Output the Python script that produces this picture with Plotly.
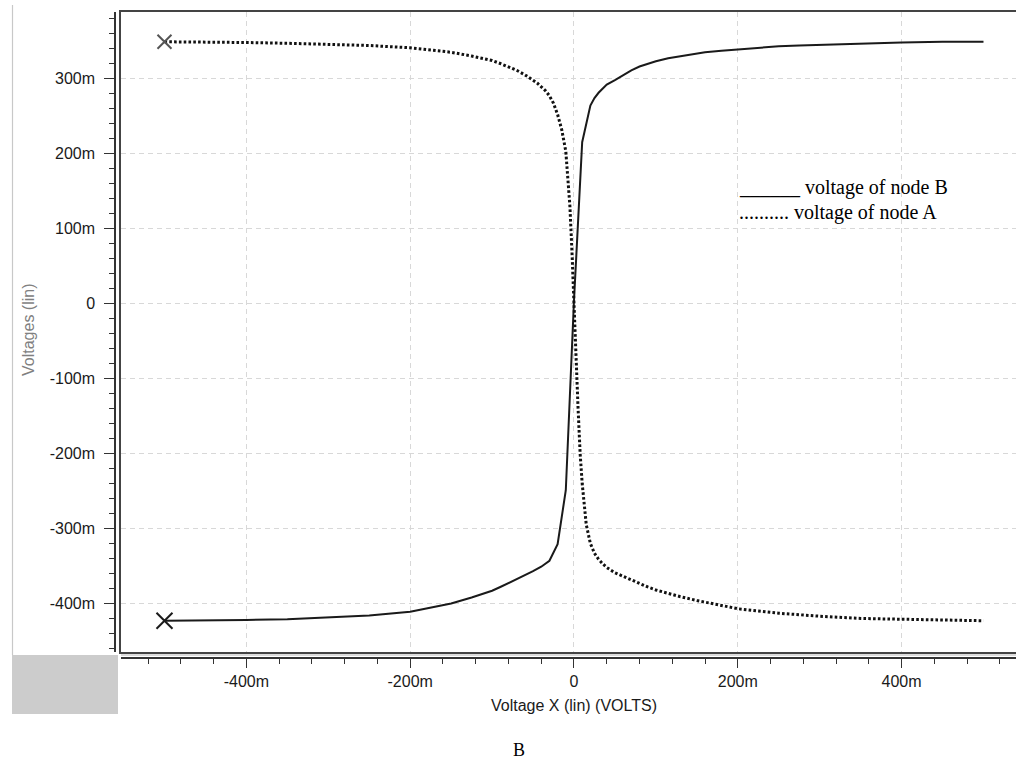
import numpy as np
import plotly.graph_objects as go

W, H = 1016, 762

# ---- data (volts) ----
node_b_x = [-0.5, -0.45, -0.4, -0.35, -0.3, -0.25, -0.2, -0.175, -0.15, -0.125, -0.1, -0.09,
            -0.08, -0.07, -0.06, -0.05, -0.04, -0.03, -0.02, -0.01, 0.0, 0.01, 0.02, 0.025,
            0.03, 0.035, 0.04, 0.05, 0.06, 0.07, 0.08, 0.09, 0.1, 0.115, 0.13, 0.145, 0.16,
            0.18, 0.2, 0.225, 0.25, 0.275, 0.3, 0.35, 0.4, 0.45, 0.5]
node_b_y = [-0.423, -0.423, -0.422, -0.421, -0.419, -0.416, -0.411, -0.406, -0.400, -0.392,
            -0.383, -0.378, -0.373, -0.368, -0.363, -0.357, -0.351, -0.343, -0.321, -0.249,
            0.004, 0.215, 0.264, 0.274, 0.281, 0.287, 0.292, 0.298, 0.305, 0.311, 0.316,
            0.320, 0.323, 0.327, 0.330, 0.333, 0.335, 0.337, 0.339, 0.341, 0.343, 0.344,
            0.345, 0.347, 0.348, 0.349, 0.349]

node_a_x = [-0.5, -0.45, -0.4, -0.35, -0.3, -0.25, -0.2, -0.175, -0.15, -0.125, -0.1, -0.09,
            -0.08, -0.07, -0.06, -0.05, -0.045, -0.04, -0.035, -0.03, -0.025, -0.02, -0.015,
            -0.01, -0.0075, -0.005, -0.0025, 0.0, 0.0025, 0.005, 0.0075, 0.01, 0.015, 0.02,
            0.025, 0.03, 0.035, 0.04, 0.05, 0.06, 0.07, 0.08, 0.09, 0.1, 0.115, 0.13, 0.15,
            0.175, 0.2, 0.225, 0.25, 0.3, 0.35, 0.4, 0.45, 0.5]
node_a_y = [0.349, 0.349, 0.348, 0.347, 0.346, 0.344, 0.341, 0.338, 0.335, 0.330, 0.324, 0.320,
            0.316, 0.311, 0.305, 0.298, 0.294, 0.289, 0.284, 0.277, 0.267, 0.252, 0.232,
            0.203, 0.170, 0.130, 0.070, -0.005, -0.085, -0.140, -0.200, -0.240, -0.295, -0.320,
            -0.333, -0.341, -0.347, -0.352, -0.359, -0.364, -0.369, -0.373, -0.378, -0.382,
            -0.387, -0.391, -0.396, -0.402, -0.407, -0.410, -0.413, -0.417, -0.420, -0.421,
            -0.422, -0.423]

x_tick_vals = [-0.4, -0.2, 0.0, 0.2, 0.4]
x_tick_text = ["-400m", "-200m", "0", "200m", "400m"]
y_tick_vals = [0.3, 0.2, 0.1, 0.0, -0.1, -0.2, -0.3, -0.4]
y_tick_text = ["300m", "200m", "100m", "0", "-100m", "-200m", "-300m", "-400m"]

x_minor = list(np.round(np.arange(-0.52, 0.53, 0.04), 3))
y_minor = list(np.round(np.arange(-0.46, 0.39, 0.02), 3))

X_RANGE = [-0.5531, 0.5397]
Y_RANGE = [-0.4647, 0.3887]


def px(x):
    return x / W


def py(y):
    return 1 - y / H


fig = go.Figure()

fig.add_trace(go.Scatter(x=node_b_x, y=node_b_y, mode="lines",
                         line=dict(color="#1a1a1a", width=2), hoverinfo="skip"))
fig.add_trace(go.Scatter(x=node_a_x, y=node_a_y, mode="lines",
                         line=dict(color="#111111", width=3, dash="2.6px,2.2px"),
                         hoverinfo="skip"))
fig.add_trace(go.Scatter(x=[node_b_x[0]], y=[node_b_y[0]], mode="markers",
                         marker=dict(symbol="x-thin-open", size=16, color="#1a1a1a",
                                     line=dict(color="#1a1a1a", width=2)),
                         hoverinfo="skip"))
fig.add_trace(go.Scatter(x=[node_a_x[0]], y=[node_a_y[0]], mode="markers",
                         marker=dict(symbol="x-thin-open", size=14, color="#555555",
                                     line=dict(color="#555555", width=2)),
                         hoverinfo="skip"))
# invisible trace carrying the offset tick axes
fig.add_trace(go.Scatter(x=node_b_x, y=node_b_y, xaxis="x2", yaxis="y2", mode="lines",
                         line=dict(width=0), opacity=0, hoverinfo="skip"))

tick_font = dict(family="Liberation Sans, Arial", size=16, color="#1a1a1a")

fig.update_layout(
    width=W, height=H,
    margin=dict(l=0, r=0, t=0, b=0),
    paper_bgcolor="white", plot_bgcolor="white",
    showlegend=False,
    font=dict(family="Liberation Sans, Arial", size=16, color="#1a1a1a"),
    xaxis=dict(domain=[px(121), 1], range=X_RANGE, anchor="y",
               showgrid=True, gridcolor="#d8d8d8", griddash="5px,4px", gridwidth=1,
               tickmode="array", tickvals=x_tick_vals, showticklabels=False, ticks="",
               zeroline=False, showline=True, linecolor="#444444", linewidth=1.5,
               mirror=True),
    yaxis=dict(domain=[py(652), py(12)], range=Y_RANGE, anchor="x",
               showgrid=True, gridcolor="#d8d8d8", griddash="5px,4px", gridwidth=1,
               tickmode="array", tickvals=y_tick_vals, showticklabels=False, ticks="",
               zeroline=False, showline=True, linecolor="#444444", linewidth=1.5),
    xaxis2=dict(overlaying="x", anchor="free", position=py(658), side="bottom",
                range=X_RANGE, showgrid=False, zeroline=False,
                showline=True, linecolor="#333333", linewidth=1.5,
                tickmode="array", tickvals=x_tick_vals, ticktext=x_tick_text,
                ticks="outside", ticklen=9, tickwidth=1.2, tickcolor="#333333",
                tickfont=tick_font,
                minor=dict(tickmode="array", tickvals=x_minor, ticks="outside",
                           ticklen=5, tickwidth=1.2, tickcolor="#333333", showgrid=False)),
    yaxis2=dict(overlaying="y", anchor="free", position=px(115), side="left",
                range=Y_RANGE, showgrid=False, zeroline=False,
                showline=True, linecolor="#333333", linewidth=1.5,
                tickmode="array", tickvals=y_tick_vals, ticktext=y_tick_text,
                ticks="outside", ticklen=10, tickwidth=1.2, tickcolor="#333333",
                tickfont=tick_font, ticklabelstandoff=6,
                minor=dict(tickmode="array", tickvals=y_minor, ticks="outside",
                           ticklen=5, tickwidth=1.2, tickcolor="#333333", showgrid=False)),
)

# decorative frame pieces
fig.add_shape(type="line", xref="paper", yref="paper", x0=px(12.5), x1=px(12.5),
              y0=py(5), y1=py(655), line=dict(color="#c8c8c8", width=1.2))
fig.add_shape(type="rect", xref="paper", yref="paper", x0=px(12), x1=px(118),
              y0=py(714), y1=py(655), fillcolor="#cccccc", line=dict(width=0))
fig.add_shape(type="line", xref="paper", yref="paper", x0=px(121), x1=1,
              y0=py(655), y1=py(655), line=dict(color="#d0d0d0", width=1.5))

serif = "Liberation Serif, Times New Roman, serif"
fig.add_annotation(xref="paper", yref="paper", x=px(28), y=py(330), text="Voltages (lin)",
                   textangle=-90, showarrow=False, xanchor="center", yanchor="middle",
                   font=dict(family="Liberation Sans, Arial", size=16, color="#808080"))
fig.add_annotation(xref="paper", yref="paper", x=px(574), y=py(705),
                   text="Voltage X (lin) (VOLTS)", showarrow=False,
                   xanchor="center", yanchor="middle",
                   font=dict(family="Liberation Sans, Arial", size=16, color="#1a1a1a"))
fig.add_annotation(xref="paper", yref="paper", x=px(519), y=py(750), text="B",
                   showarrow=False, xanchor="center", yanchor="middle",
                   font=dict(family=serif, size=18, color="#000000"))
fig.add_annotation(xref="paper", yref="paper", x=px(737), y=py(188),
                   text="______ voltage of node B", showarrow=False,
                   xanchor="left", yanchor="middle",
                   font=dict(family=serif, size=20, color="#000000"))
fig.add_annotation(xref="paper", yref="paper", x=px(737), y=py(212),
                   text=".......... voltage of node A", showarrow=False,
                   xanchor="left", yanchor="middle",
                   font=dict(family=serif, size=20, color="#000000"))

fig.write_html("out.html")
